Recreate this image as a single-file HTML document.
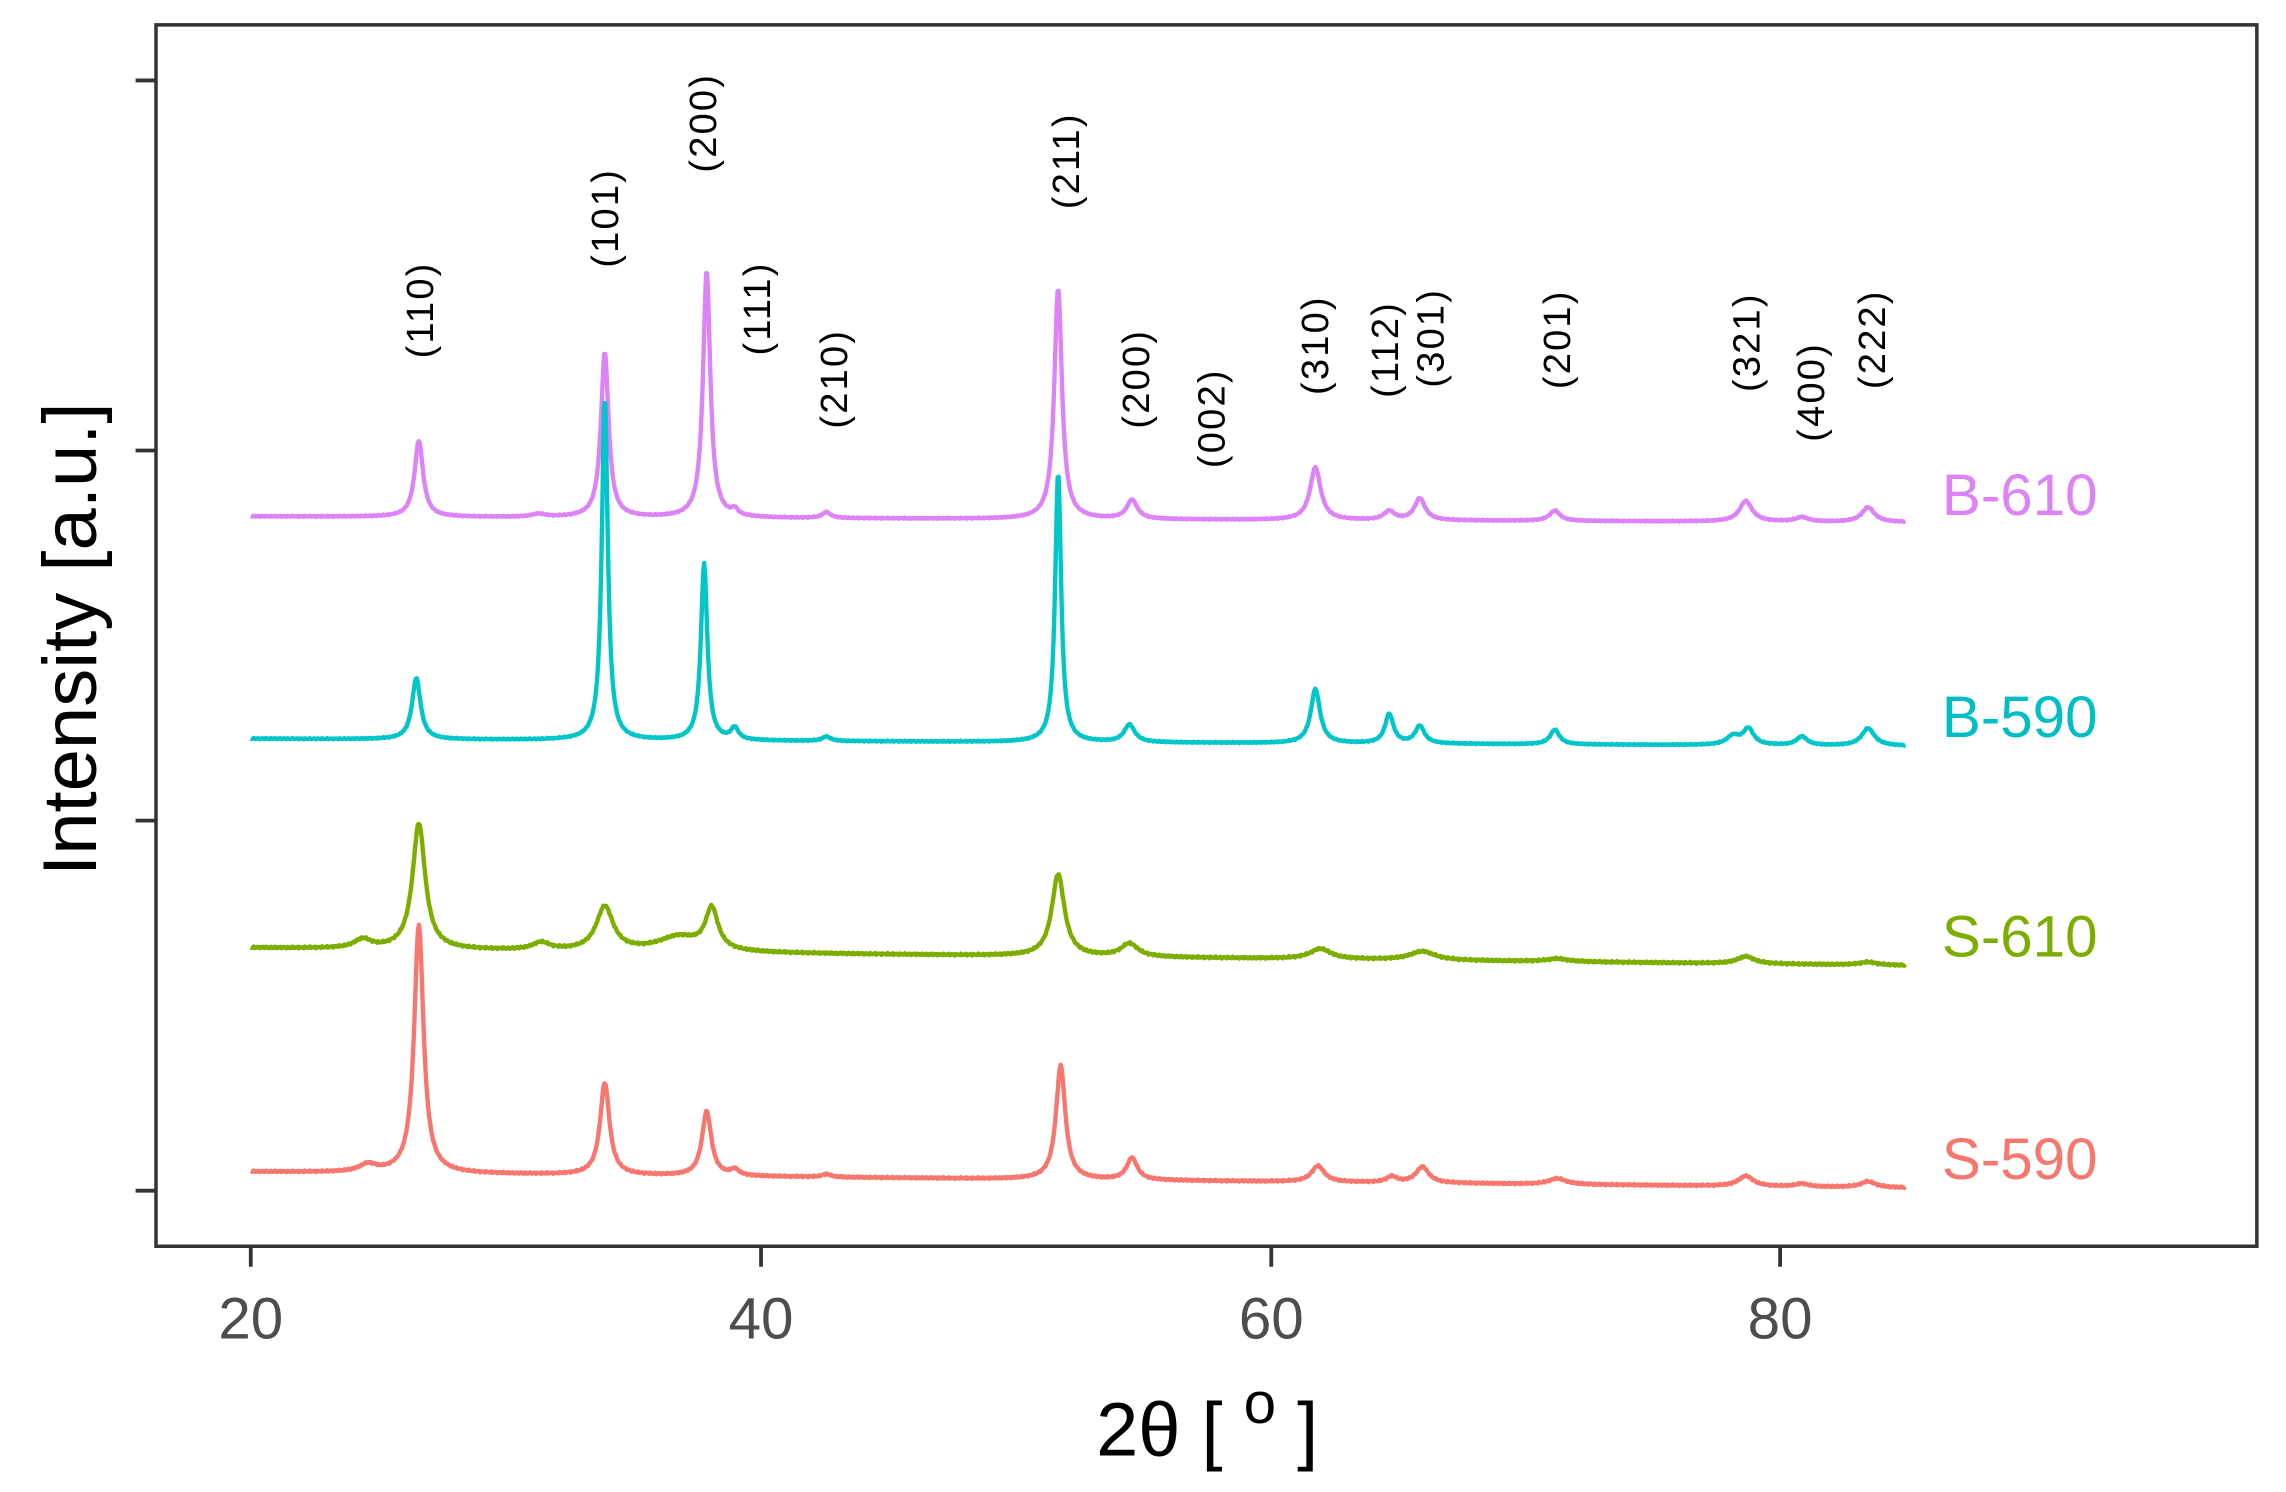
<!DOCTYPE html>
<html><head><meta charset="utf-8"><style>
html,body{margin:0;padding:0;background:#fff;width:2286px;height:1492px;overflow:hidden}
svg{display:block}
</style></head><body>
<svg id="s" width="2286" height="1492" viewBox="0 0 1568 1020" preserveAspectRatio="none" xmlns="http://www.w3.org/2000/svg" font-family="Liberation Sans, DejaVu Sans, sans-serif">
<rect x="0" y="0" width="1568" height="1020" fill="#fff"/>
<g id="series"></g>
<rect x="107" y="17" width="1441" height="835" fill="none" stroke="#333" stroke-width="2.4"/>
<g stroke="#333" stroke-width="2.6">
<line x1="93" y1="55" x2="107" y2="55"/><line x1="93" y1="308" x2="107" y2="308"/>
<line x1="93" y1="561" x2="107" y2="561"/><line x1="93" y1="814" x2="107" y2="814"/>
<line x1="172" y1="852" x2="172" y2="866"/><line x1="522" y1="852" x2="522" y2="866"/>
<line x1="872" y1="852" x2="872" y2="866"/><line x1="1221" y1="852" x2="1221" y2="866"/>
</g>
<g fill="#4d4d4d" font-size="40" text-anchor="middle">
<text x="172" y="915">20</text><text x="522" y="915">40</text><text x="872" y="915">60</text><text x="1221" y="915">80</text>
</g>
<text x="828" y="995" font-size="52" text-anchor="middle" fill="#000">2θ  [  <tspan dy="-22" font-size="40">o</tspan><tspan dy="22">  ]</tspan></text>
<text transform="translate(66,437) rotate(-90)" font-size="52" text-anchor="middle" fill="#000">Intensity [a.u.]</text>
<g font-size="40">
<text x="1332" y="352" fill="#DD82F7">B-610</text>
<text x="1332" y="504" fill="#00BFC4">B-590</text>
<text x="1332" y="654" fill="#7CAE00">S-610</text>
<text x="1332" y="806" fill="#F8766D">S-590</text>
</g>
<g font-size="26" fill="#000" id="hkl"></g>
</svg>
<script>
var X=function(v){return 172+(v-20)*17.47;};
function build(base,end,peaks,color,noise){
  var d="";
  for(var v=20;v<=85;v+=0.04){
    var y=base+(end-base)*(v-20)/65;
    for(var i=0;i<peaks.length;i++){var p=peaks[i];var g=p[2]||0.22;var t=(v-p[0])/g;y-=p[1]/(1+t*t);}
    y+= (Math.sin(v*37.1)+Math.sin(v*91.7))*noise;
    d+=(d?"L":"M")+X(v).toFixed(2)+","+y.toFixed(2);
  }
  var p=document.createElementNS("http://www.w3.org/2000/svg","path");
  p.setAttribute("d",d);p.setAttribute("fill","none");p.setAttribute("stroke",color);p.setAttribute("stroke-width","3");p.setAttribute("stroke-linejoin","round");
  document.getElementById("series").appendChild(p);
}
build(801,812,[[24.6,5,0.4],[26.6,170,0.22],[33.9,63,0.22],[37.9,44,0.22],[39,4,0.2],[42.6,2,0.2],[51.8,78,0.22],[54.6,15,0.25],[61.9,11,0.3],[64.8,4,0.25],[66,11,0.3],[71.3,4,0.4],[78.7,7,0.35],[80.9,2,0.3],[83.5,4,0.35]],"#F8766D",0.3);
build(648,660,[[24.4,6,0.4],[26.6,86,0.3],[31.4,5,0.4],[33.9,30,0.4],[36.8,10,1.0],[38.1,28,0.3],[51.7,56,0.3],[54.5,9,0.4],[62,7,0.5],[66,6,0.6],[71.3,2,0.5],[78.7,5,0.4],[83.5,2,0.4]],"#7CAE00",0.35);
build(353,357,[[26.6,52,0.2],[31.3,2,0.3],[33.9,113,0.18],[37.9,169,0.17],[39,4,0.15],[42.6,4,0.2],[51.7,158,0.18],[54.6,13,0.25],[61.8,36,0.25],[64.7,6,0.25],[65.9,15,0.25],[71.2,7,0.25],[78.7,14,0.3],[80.9,3,0.3],[83.5,10,0.3]],"#DD82F7",0.2);
build(505,510,[[26.5,42,0.2],[33.9,235,0.14],[37.8,121,0.15],[39,8,0.18],[42.6,3,0.2],[51.7,185,0.14],[54.5,12,0.25],[61.8,37,0.22],[64.7,20,0.2],[65.9,12,0.22],[71.2,10,0.22],[78.2,6,0.3],[78.8,11,0.25],[80.9,6,0.25],[83.5,12,0.3]],"#00C5C9",0.2);
var L=[["(110)",288,245],["(101)",415,183],["(200)",482,118],["(111)",519,243],["(210)",572,293],["(211)",731,143],["(200)",779,293],["(002)",831,320],["(310)",902,270],["(112)",950,272],["(301)",981,265],["(201)",1068,266],["(321)",1198,268],["(400)",1242,302],["(222)",1284,266]];
var g=document.getElementById("hkl");
L.forEach(function(a){var t=document.createElementNS("http://www.w3.org/2000/svg","text");t.setAttribute("transform","translate("+(a[1]+9)+","+a[2]+") rotate(-90)");t.setAttribute("letter-spacing","1.5");t.textContent=a[0];g.appendChild(t);});
</script>
</body></html>
